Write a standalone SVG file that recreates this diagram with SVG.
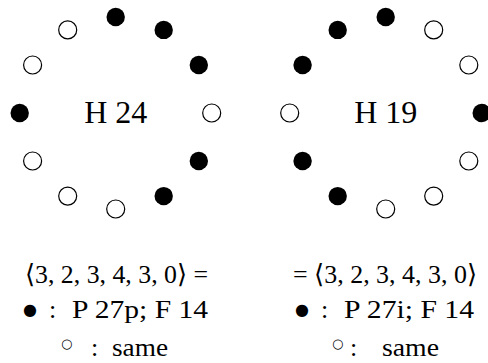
<svg xmlns="http://www.w3.org/2000/svg" width="488" height="363" viewBox="0 0 488 363">
<style>
.f{fill:#000}
.o{fill:#fff;stroke:#000;stroke-width:1.2}
.t{font-family:"Liberation Serif","DejaVu Serif",serif;fill:#000}
.h{font-size:32px;text-anchor:middle}
.b{font-size:26px}
.bul{font-family:"DejaVu Sans",sans-serif;font-size:16px}
.cir{font-family:"DejaVu Sans",sans-serif;font-size:13px}
</style>
<rect width="488" height="363" fill="#fff"/>
<g id="ring-left">
<circle class="f" cx="115.7" cy="17" r="9.2"/>
<circle class="f" cx="163.7" cy="29.9" r="9.2"/>
<circle class="f" cx="198.8" cy="65" r="9.2"/>
<circle class="o" cx="211.7" cy="113" r="9"/>
<circle class="f" cx="198.8" cy="161" r="9.2"/>
<circle class="f" cx="163.7" cy="196.1" r="9.2"/>
<circle class="o" cx="115.7" cy="209" r="9"/>
<circle class="o" cx="67.7" cy="196.1" r="9"/>
<circle class="o" cx="32.6" cy="161" r="9"/>
<circle class="f" cx="19.7" cy="113" r="9.2"/>
<circle class="o" cx="32.6" cy="65" r="9"/>
<circle class="o" cx="67.7" cy="29.9" r="9"/>
<text class="t h" x="115.7" y="123">H 24</text>
</g>
<g id="ring-right">
<circle class="f" cx="385.7" cy="17" r="9.2"/>
<circle class="o" cx="433.7" cy="29.9" r="9"/>
<circle class="o" cx="468.8" cy="65" r="9"/>
<circle class="f" cx="481.7" cy="113" r="9.2"/>
<circle class="o" cx="468.8" cy="161" r="9"/>
<circle class="o" cx="433.7" cy="196.1" r="9"/>
<circle class="o" cx="385.7" cy="209" r="9"/>
<circle class="f" cx="337.7" cy="196.1" r="9.2"/>
<circle class="f" cx="302.6" cy="161" r="9.2"/>
<circle class="o" cx="289.7" cy="113" r="9"/>
<circle class="f" cx="302.6" cy="65" r="9.2"/>
<circle class="f" cx="337.7" cy="29.9" r="9.2"/>
<text class="t h" x="385.7" y="123">H 19</text>
</g>
<g id="label-left">
<text class="t b" x="25" y="283" textLength="183" lengthAdjust="spacingAndGlyphs">⟨3, 2, 3, 4, 3, 0⟩ =</text>
<text class="t b" y="318"><tspan class="bul" x="23" y="315">●</tspan><tspan x="49" y="318">:</tspan><tspan x="72" textLength="136" lengthAdjust="spacingAndGlyphs">P 27p; F 14</tspan></text>
<text class="t b" y="356"><tspan class="cir" x="61" y="348">○</tspan><tspan x="91" y="356">:</tspan><tspan x="112" textLength="56" lengthAdjust="spacingAndGlyphs">same</tspan></text>
</g>
<g id="label-right">
<text class="t b" x="293" y="283" textLength="184" lengthAdjust="spacingAndGlyphs">= ⟨3, 2, 3, 4, 3, 0⟩</text>
<text class="t b" y="318"><tspan class="bul" x="295" y="315">●</tspan><tspan x="321" y="318">:</tspan><tspan x="344" textLength="130" lengthAdjust="spacingAndGlyphs">P 27i; F 14</tspan></text>
<text class="t b" y="356"><tspan class="cir" x="332" y="348">○</tspan><tspan x="350" y="356">:</tspan><tspan x="382" textLength="57" lengthAdjust="spacingAndGlyphs">same</tspan></text>
</g>
</svg>
